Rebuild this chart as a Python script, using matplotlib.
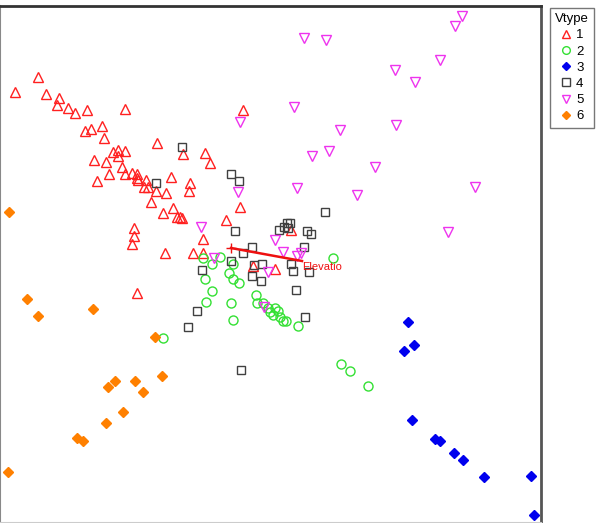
import matplotlib
matplotlib.use('Agg')
import matplotlib.pyplot as plt
from matplotlib.lines import Line2D

plt.rcParams['font.family'] = ['Liberation Sans', 'DejaVu Sans']

# ordination scores per vegetation type
x1 = [-2.16, -1.93, -1.85, -1.72, -1.74, -1.63, -1.56, -1.44, -1.06, 0.12,
      -1.29, -1.40, -1.46, -1.27, -0.74, -0.26, -0.48, -0.21, -1.18, -1.13,
      -1.06, -1.13, -1.37, -1.25, -1.22, -1.34, -1.09, -1.06, -0.99, -0.94,
      -0.94, -0.93, -0.85, -0.87, -0.83, -0.75, -0.65, -0.60, -0.41, -0.42,
      -0.80, -0.58, -0.68, -0.54, -0.51, -0.49, 0.09, -0.05, -0.97, -0.97,
      -0.99, -0.28, -0.66, -0.38, -0.28, -0.94, 0.22, 0.44, 0.60]
y1 = [1.56, 1.71, 1.54, 1.50, 1.43, 1.40, 1.35, 1.38, 1.39, 1.38,
      1.22, 1.19, 1.17, 1.10, 1.05, 0.95, 0.94, 0.85, 0.96, 0.98,
      0.97, 0.92, 0.88, 0.86, 0.74, 0.67, 0.81, 0.74, 0.75, 0.74,
      0.70, 0.68, 0.68, 0.61, 0.61, 0.57, 0.55, 0.71, 0.65, 0.57,
      0.46, 0.40, 0.35, 0.31, 0.31, 0.30, 0.41, 0.28, 0.20, 0.12,
      0.04, 0.09, -0.05, -0.05, -0.05, -0.45, -0.18, -0.21, 0.18]

x2 = [-0.28, -0.11, -0.19, 0.02, -0.02, 0.02, 0.08, -0.26, -0.19, -0.25,
      0.00, 0.02, 0.25, 0.26, 0.32, 0.37, 0.39, 0.44, 0.47, 0.49,
      0.52, 0.55, 0.67, 1.02, -0.68, 1.10, 1.19, 1.37, 0.42]
y2 = [-0.10, -0.09, -0.16, -0.16, -0.25, -0.31, -0.35, -0.31, -0.43, -0.54,
      -0.55, -0.72, -0.47, -0.55, -0.55, -0.60, -0.64, -0.60, -0.63, -0.69,
      -0.73, -0.73, -0.78, -0.10, -0.90, -1.16, -1.23, -1.38, -0.67]

x3 = [1.77, 1.83, 1.73, 1.81, 2.04, 2.09, 2.23, 2.32, 2.53, 3.00, 3.03]
y3 = [-0.74, -0.97, -1.03, -1.72, -1.91, -1.93, -2.05, -2.12, -2.29, -2.28, -2.67]

x4 = [-0.49, -0.75, 0.00, 0.08, 0.04, 0.21, 0.12, 0.00, -0.29, 0.23,
      0.31, 0.21, 0.30, 0.48, 0.53, 0.56, 0.59, 0.57, 0.76, 0.80,
      0.73, 0.60, 0.62, 0.78, 0.65, 0.74, 0.94, -0.34, -0.43, 0.10]
y4 = [1.01, 0.65, 0.74, 0.67, 0.17, 0.01, -0.05, -0.13, -0.22, -0.17,
      -0.16, -0.28, -0.33, 0.18, 0.21, 0.25, 0.25, 0.20, 0.17, 0.14,
      0.01, -0.16, -0.23, -0.24, -0.42, -0.69, 0.36, -0.63, -0.79, -1.22]

x5 = [2.31, 2.24, 0.73, 0.95, 2.09, 1.64, 1.84, 0.63, 1.65, 0.09,
      1.09, 0.81, 0.98, 1.44, 0.66, 2.44, 1.26, 0.07, 2.17, -0.30,
      0.44, 0.52, 0.66, 0.70, -0.17, 0.37, 0.33]
y5 = [2.32, 2.22, 2.10, 2.08, 1.88, 1.78, 1.66, 1.41, 1.23, 1.26,
      1.18, 0.92, 0.97, 0.81, 0.60, 0.61, 0.53, 0.56, 0.16, 0.21,
      0.08, -0.04, -0.08, -0.05, -0.10, -0.24, -0.59]

x6 = [-2.22, -2.04, -1.93, -1.38, -0.76, -0.69, -0.96, -1.16, -1.23, -0.88,
      -1.08, -1.25, -1.54, -1.48, -2.23]
y6 = [0.36, -0.51, -0.68, -0.61, -0.89, -1.28, -1.33, -1.33, -1.39, -1.44,
      -1.64, -1.75, -1.90, -1.93, -2.24]

# fitted environmental vector
env_name = 'Elevatio'
env_x = 0.71
env_y = -0.13

groups = [
    ('1', x1, y1, '^', '#ff2020', 'none', 7),
    ('2', x2, y2, 'o', '#33e033', 'none', 6.5),
    ('3', x3, y3, 'D', '#0000ee', '#0000ee', 5),
    ('4', x4, y4, 's', '#404040', 'none', 6),
    ('5', x5, y5, 'v', '#ee33ee', 'none', 7),
    ('6', x6, y6, 'D', '#ff8000', '#ff8000', 5),
]

fig = plt.figure(figsize=(5.97, 5.23), dpi=100)
ax = fig.add_axes([0, 1 / 523, 541 / 597, 516 / 523])

handles = []
for lab, xs, ys, mk, col, fc, ms in groups:
    ax.plot(xs, ys, linestyle='none', marker=mk, markersize=ms,
            markeredgecolor=col, markerfacecolor=fc, markeredgewidth=1)
    handles.append(Line2D([], [], linestyle='none', marker=mk, markersize=ms * 0.85,
                          markeredgecolor=col, markerfacecolor=fc,
                          markeredgewidth=1, label=lab))

ax.plot([0, env_x], [0, env_y], color='#ee1010', lw=1.8)
ax.plot([0], [0], marker='+', color='#ee1010', markersize=7, mew=1)
ax.text(env_x, env_y - 0.06, env_name, color='#ee1010', fontsize=8,
        ha='left', va='center')

ax.set_xlim(-2.31, 3.10)
ax.set_ylim(-2.74, 2.42)
ax.set_xticks([])
ax.set_yticks([])
ax.spines['top'].set_color('#333333')
ax.spines['top'].set_linewidth(2)
ax.spines['right'].set_color('#555555')
ax.spines['right'].set_linewidth(2)
ax.spines['left'].set_color('#888888')
ax.spines['left'].set_linewidth(1.5)
ax.spines['bottom'].set_color('#cccccc')

leg = fig.legend(handles=handles, title='Vtype', loc='upper left',
                 bbox_to_anchor=(550 / 597, 1 - 8 / 523), borderaxespad=0,
                 fontsize=9.5, title_fontsize=9.5, handlelength=0.8,
                 handletextpad=0.35, labelspacing=0.3, borderpad=0.4,
                 fancybox=False, framealpha=1)
leg.get_frame().set_edgecolor('#777777')
leg.get_frame().set_linewidth(1)

fig.savefig('out.png', dpi=100)
